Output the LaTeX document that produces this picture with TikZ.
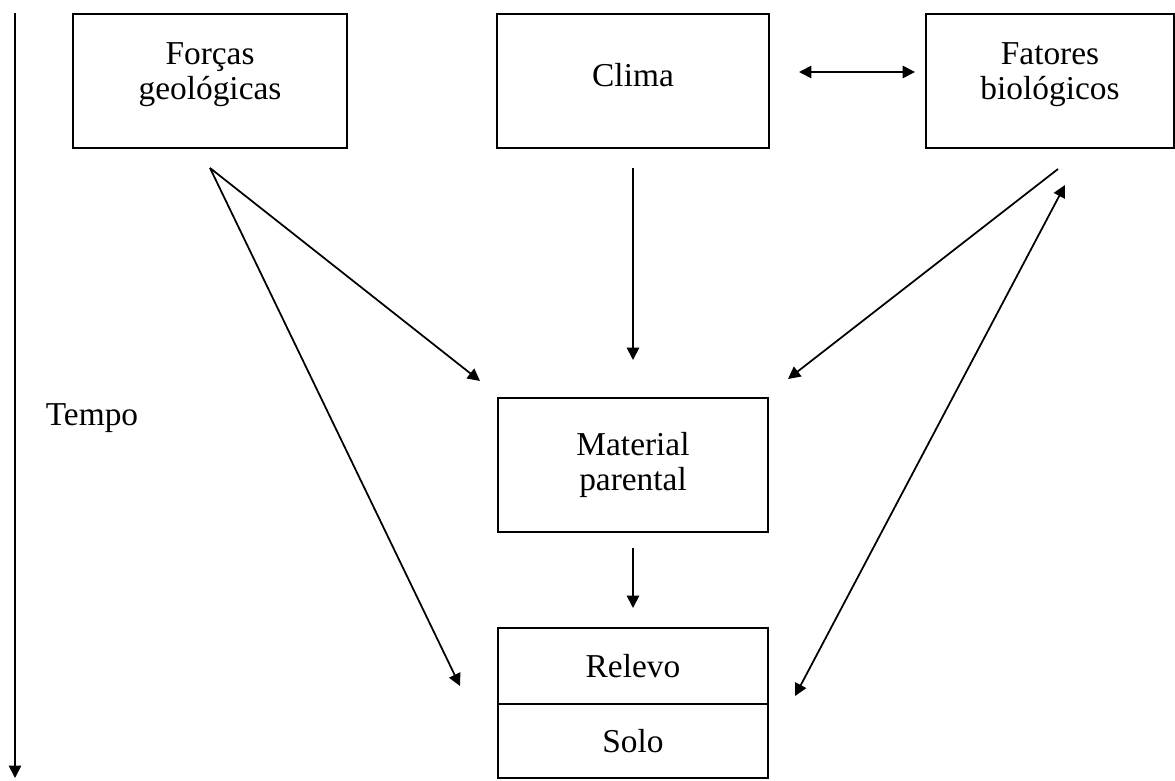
\documentclass[tikz,border=0pt]{standalone}
\usepackage{fontspec}
\setmainfont{Liberation Serif}
\usepackage{tikz}
\usetikzlibrary{positioning}
\usetikzlibrary{arrows.meta}
\tikzset{factorbox/.style={rectangle, draw=black, line width=1.1pt, inner sep=0pt, align=center, font=\fontsize{19}{20}\selectfont}}
\tikzset{flow/.style={line width=1pt, -{Triangle[length=7pt, width=7pt]}}}
\tikzset{bothflow/.style={line width=1pt, {Triangle[length=7pt, width=7pt]}-{Triangle[length=7pt, width=7pt]}}}

\begin{document}
\begin{tikzpicture}[x=0.02cm, y=-0.02cm]
    \useasboundingbox (0,0) rectangle (1175,780);

    \node [factorbox, text depth=0.38cm, minimum width=5.48cm, minimum height=2.68cm](forcas) at (210,81){For\c{c}as\\geol\'ogicas};
    \node [factorbox, text depth=0.24cm, minimum width=5.44cm, minimum height=2.68cm](clima) at (633,81){Clima};
    \node [factorbox, text depth=0.38cm, minimum width=4.96cm, minimum height=2.68cm](fatores) at (1050,81){Fatores\\biol\'ogicos};
    \node [factorbox, minimum width=5.4cm, minimum height=2.68cm](material) at (633,465){Material\\parental};
    \node [factorbox, minimum width=5.4cm, minimum height=1.52cm](relevo) at (633,666){Relevo};
    \node [factorbox, minimum width=5.4cm, minimum height=1.48cm](solo) at (633,741){Solo};
    \node [font=\fontsize{19}{20}\selectfont](tempo) at (92,418){Tempo};

    \coordinate (T1) at (15,13);
    \coordinate (T2) at (15,778);
    \coordinate (F1) at (210,168);
    \coordinate (F2) at (480,381);
    \coordinate (F3) at (460,686);
    \coordinate (C1) at (633,168);
    \coordinate (C2) at (633,360);
    \coordinate (B1) at (1058,169);
    \coordinate (B2) at (788,379);
    \coordinate (B3) at (1065,185);
    \coordinate (B4) at (795,696);
    \coordinate (M1) at (633,548);
    \coordinate (M2) at (633,608);
    \coordinate (D1) at (799,72);
    \coordinate (D2) at (915,72);

    \draw[flow] (T1) -- (T2);
    \draw[flow] (F1) -- (F2);
    \draw[flow] (F1) -- (F3);
    \draw[flow] (C1) -- (C2);
    \draw[flow] (B1) -- (B2);
    \draw[bothflow] (B4) -- (B3);
    \draw[flow] (M1) -- (M2);
    \draw[bothflow] (D1) -- (D2);
\end{tikzpicture}
\end{document}
